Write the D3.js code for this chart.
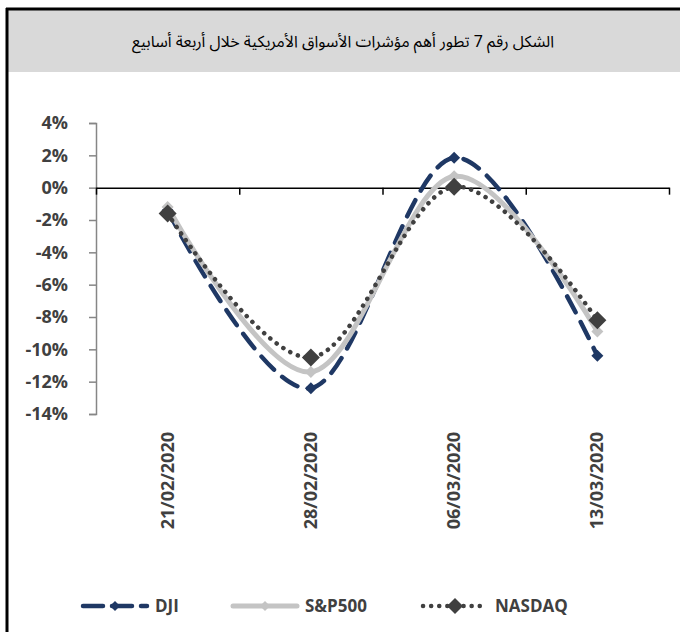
<!DOCTYPE html>
<html>
<head>
<meta charset="utf-8">
<script src="https://cdn.jsdelivr.net/npm/d3@7"></script>
<style>
  body { margin: 0; background: #fff; }
  svg text { font-family: "Open Sans", "DejaVu Sans", sans-serif; }
</style>
</head>
<body>
<div id="chart"></div>
<script>
const dates = ["21/02/2020", "28/02/2020", "06/03/2020", "13/03/2020"];
const dji = [-1.4, -12.4, 1.85, -10.4];
const sp500 = [-1.2, -11.4, 0.7, -8.9];
const nasdaq = [-1.6, -10.5, 0.05, -8.2];
const yTicks = [-14, -12, -10, -8, -6, -4, -2, 0, 2, 4];
const title = "الشكل رقم 7 تطور أهم مؤشرات الأسواق الأمريكية خلال أربعة أسابيع";

const width = 680, height = 632;
const textColor = "#404040";

const svg = d3.select("#chart")
  .append("svg")
  .attr("width", width)
  .attr("height", height);

// frame + title band
svg.append("rect")
  .attr("x", 8).attr("y", 10)
  .attr("width", width - 8).attr("height", 62)
  .attr("fill", "#d9d9d9");
svg.append("line")
  .attr("x1", 6).attr("x2", width).attr("y1", 9).attr("y2", 9)
  .attr("stroke", "#000").attr("stroke-width", 3);
svg.append("line")
  .attr("x1", 7).attr("x2", 7).attr("y1", 8).attr("y2", height)
  .attr("stroke", "#000").attr("stroke-width", 3);

svg.append("text")
  .attr("x", 343).attr("y", 47)
  .attr("text-anchor", "middle")
  .attr("direction", "rtl")
  .style("font-family", "'Noto Sans Arabic', 'DejaVu Sans', sans-serif")
  .style("font-size", "16px")
  .attr("fill", "#000")
  .text(title);

// scales
const xScale = d3.scaleBand()
  .domain(dates)
  .range([96, 669])
  .padding(0);

const yScale = d3.scaleLinear()
  .domain([-14, 4])
  .range([414, 123]);

const cx = d => xScale(d) + xScale.bandwidth() / 2;

// y axis
const yAxis = svg.append("g")
  .attr("transform", "translate(96,0)")
  .call(d3.axisLeft(yScale)
    .tickValues(yTicks)
    .tickSize(7)
    .tickSizeOuter(7)
    .tickPadding(21)
    .tickFormat(d => d + "%"));
yAxis.select(".domain").attr("stroke", "#868686").attr("stroke-width", 1.5);
yAxis.selectAll(".tick line").attr("stroke", "#868686").attr("stroke-width", 1.5);
yAxis.selectAll(".tick text")
  .attr("fill", textColor)
  .style("font-size", "18px")
  .style("font-weight", "bold");

// x axis at zero, ticks between categories
const edge = d3.scaleLinear().domain([0, dates.length]).range(xScale.range());
const xAxis = svg.append("g")
  .attr("transform", `translate(0,${yScale(0)})`)
  .call(d3.axisBottom(edge)
    .tickValues(d3.range(dates.length + 1))
    .tickSize(7)
    .tickSizeOuter(0)
    .tickFormat(""));
xAxis.select(".domain").attr("stroke", "#000").attr("stroke-width", 1.5);
xAxis.selectAll(".tick line").attr("stroke", "#000").attr("stroke-width", 1.5);

// x labels (low position, rotated)
svg.append("g")
  .selectAll("text")
  .data(dates)
  .enter()
  .append("text")
  .attr("transform", d => `translate(${cx(d) + 6},432) rotate(-90)`)
  .attr("text-anchor", "end")
  .attr("fill", textColor)
  .style("font-size", "18px")
  .style("font-weight", "bold")
  .text(d => d);

// series
const series = [
  { name: "DJI", values: dji, color: "#1f3864", width: 4.5, dash: "18 11", marker: 6 },
  { name: "S&P500", values: sp500, color: "#c4c4c4", width: 5, dash: null, marker: 6 },
  { name: "NASDAQ", values: nasdaq, color: "#404040", width: 4.5, dash: "0.1 8", marker: 9 }
];

const line = d3.line()
  .x((d, i) => cx(dates[i]))
  .y(d => yScale(d))
  .curve(d3.curveCardinal.tension(0));

const diamond = s => `M0,${-s}L${s},0L0,${s}L${-s},0Z`;

series.forEach(s => {
  svg.append("path")
    .datum(s.values)
    .attr("fill", "none")
    .attr("stroke", s.color)
    .attr("stroke-width", s.width)
    .attr("stroke-linecap", "round")
    .attr("stroke-dasharray", s.dash)
    .attr("d", line);
});

series.forEach(s => {
  svg.append("g")
    .selectAll("path")
    .data(s.values)
    .enter()
    .append("path")
    .attr("transform", (d, i) => `translate(${cx(dates[i])},${yScale(d)})`)
    .attr("d", diamond(s.marker))
    .attr("fill", s.color);
});

// legend
const legendX = [83, 233, 423];
const legend = svg.append("g")
  .selectAll("g")
  .data(series)
  .enter()
  .append("g")
  .attr("transform", (d, i) => `translate(${legendX[i]},606)`);

legend.append("line")
  .attr("x1", 0).attr("x2", 64)
  .attr("y1", 0).attr("y2", 0)
  .attr("stroke", d => d.color)
  .attr("stroke-width", d => d.width)
  .attr("stroke-linecap", "round")
  .attr("stroke-dasharray", (d, i) => i === 0 ? "20 9" : d.dash);

legend.append("path")
  .attr("transform", "translate(32,0)")
  .attr("d", d => diamond(d.marker - 1))
  .attr("fill", d => d.color);

legend.append("text")
  .attr("x", 72).attr("y", 6)
  .attr("fill", textColor)
  .style("font-size", "17px")
  .style("font-weight", "bold")
  .text(d => d.name);
</script>
</body>
</html>
